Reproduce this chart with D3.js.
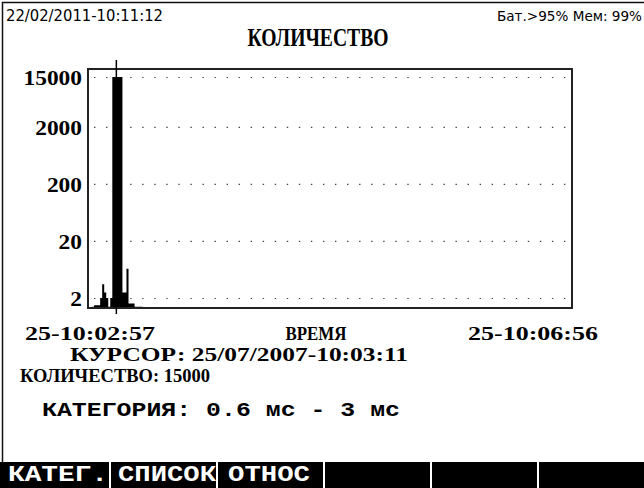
<!DOCTYPE html>
<html>
<head>
<meta charset="utf-8">
<script src="https://cdn.jsdelivr.net/npm/d3@7/dist/d3.min.js"></script>
<style>
  html, body { margin: 0; padding: 0; background: #fff; }
  svg { display: block; }
</style>
</head>
<body>
<script>
// Event-count histogram screen (logarithmic count axis, time on x)
const headerDate = "22/02/2011-10:11:12";
const headerStatus = "Бат.>95% Мем: 99%";
const title = "КОЛИЧЕСТВО";

const timeStart = "10:02:57";
const timeEnd = "10:06:56";
const timeStartLabel = "25-10:02:57";
const timeEndLabel = "25-10:06:56";
const xTitle = "ВРЕМЯ";

const yTicks = [2, 20, 200, 2000, 15000];
const yTickLabels = ["2", "20", "200", "2000", "15000"];

// one-second bins: start time and event count
const binTimes = [
  "10:02:59", "10:03:00", "10:03:01", "10:03:02", "10:03:03", "10:03:04",
  "10:03:05", "10:03:06", "10:03:07", "10:03:08", "10:03:09", "10:03:10",
  "10:03:11", "10:03:12", "10:03:13", "10:03:14", "10:03:15", "10:03:16",
  "10:03:17", "10:03:18", "10:03:19", "10:03:20", "10:03:21", "10:03:22",
  "10:03:23"
];
const binCounts = [
  1.4, 1.5, 1.5, 1.5, 2, 3.5,
  2.5, 2, 1.4, 2, 15000, 15000,
  15000, 15000, 15000, 2.5, 2.5, 6.5,
  1.6, 1.6, 1.6, 1.4, 1.4, 1.4,
  1.4
];

const cursorTime = "10:03:11";
const cursorLabel = "КУРСОР: 25/07/2007-10:03:11";
const cursorCount = 15000;
const countLabel = "КОЛИЧЕСТВО: ";
const categoryLabel = "КАТЕГОРИЯ: 0.6 мс -   3 мс";

const softKeys = ["КАТЕГ.", "СПИСОК", "ОТНОС", "", "", ""];

// ---------------------------------------------------------------
const W = 644, H = 488;
const frame = { left: 88, right: 572, top: 69, bottom: 308 };

const parseT = d3.timeParse("%H:%M:%S");
const svg = d3.select("body").append("svg").attr("width", W).attr("height", H);

const serif = "'Liberation Serif', 'DejaVu Serif', serif";
const sans = "'DejaVu Sans', 'Liberation Sans', sans-serif";
const mono = "'Liberation Mono', 'DejaVu Sans Mono', monospace";

function label(g, txt, x, y, opts) {
  const t = g.append("text")
    .attr("x", x).attr("y", y)
    .attr("font-family", opts.family)
    .attr("font-size", opts.size)
    .attr("font-weight", opts.weight || "normal")
    .attr("fill", opts.fill || "#000")
    .attr("text-anchor", opts.anchor || "start")
    .text(txt);
  if (opts.len) t.attr("textLength", opts.len).attr("lengthAdjust", "spacingAndGlyphs");
  return t;
}

// screen border
svg.append("path")
  .attr("d", `M2.5,${H} V2.5 H${W}`)
  .attr("fill", "none").attr("stroke", "#111").attr("stroke-width", 1.5);

// header
label(svg, headerDate, 6, 21, { family: sans, size: 15, len: 157 });
label(svg, headerStatus, 497, 21, { family: sans, size: 13.5, len: 145 });
label(svg, title, 318, 46, { family: serif, size: 25, weight: "bold", anchor: "middle", len: 141 });

// scales
const x = d3.scaleTime()
  .domain([parseT(timeStart), parseT(timeEnd)])
  .range([frame.left, frame.right]);
const y = d3.scaleLog()
  .domain([2, 15000])
  .range([298, 77]);

// dotted grid + y labels from the axis generator
const yAxis = d3.axisLeft(y)
  .tickValues(yTicks)
  .tickFormat((d, i) => yTickLabels[i])
  .tickSize(0)
  .tickPadding(6);

const gy = svg.append("g").attr("transform", `translate(${frame.left},0)`).call(yAxis);
gy.select(".domain").remove();
gy.selectAll(".tick text")
  .attr("font-family", serif)
  .attr("font-size", 21)
  .attr("font-weight", "bold")
  .attr("fill", "#000")
  .attr("dy", "0.34em")
  .attr("textLength", (d, i) => yTickLabels[i].length * 11.7)
  .attr("lengthAdjust", "spacingAndGlyphs");
gy.selectAll(".tick").append("line")
  .attr("x1", 94 - frame.left).attr("x2", 566 - frame.left)
  .attr("stroke", "#444").attr("stroke-width", 1.2)
  .attr("stroke-dasharray", "1.4 10.65");

// histogram as one stepped area so adjacent bins merge cleanly
const bins = binTimes.map((t, i) => ({ t: parseT(t), v: binCounts[i] }));
const lastBin = bins[bins.length - 1];
const steps = bins.concat([{ t: new Date(lastBin.t.getTime() + 1000), v: lastBin.v }]);
const area = d3.area()
  .curve(d3.curveStepAfter)
  .x(d => x(d.t))
  .y0(frame.bottom)
  .y1(d => y(d.v));
svg.append("path").datum(steps).attr("d", area).attr("fill", "#000");

// plot frame
svg.append("rect")
  .attr("x", frame.left).attr("y", frame.top)
  .attr("width", frame.right - frame.left).attr("height", frame.bottom - frame.top)
  .attr("fill", "none").attr("stroke", "#222").attr("stroke-width", 2);

// cursor
const cx = x(parseT(cursorTime));
svg.append("line")
  .attr("x1", cx).attr("x2", cx).attr("y1", 60).attr("y2", 314)
  .attr("stroke", "#000").attr("stroke-width", 1.5);

// x labels
const big = { family: serif, size: 19, weight: "bold" };
label(svg, timeStartLabel, x(parseT(timeStart)) + 2, 340, { ...big, anchor: "middle", len: 130 });
label(svg, xTitle, 316, 340, { ...big, anchor: "middle", len: 61 });
label(svg, timeEndLabel, x(parseT(timeEnd)) - 39, 340, { ...big, anchor: "middle", len: 130 });

// cursor readout
label(svg, cursorLabel, 70, 361, { ...big, len: 338 });
label(svg, countLabel + cursorCount, 20, 382, { ...big, len: 190 });
label(svg, categoryLabel, 42, 416, { family: mono, size: 21, weight: "bold", len: 358 });

// soft-key bar
const keyW = 107;
const keys = svg.append("g");
keys.append("rect").attr("x", 0).attr("y", 462).attr("width", W).attr("height", H - 462).attr("fill", "#000");
softKeys.forEach((k, i) => {
  if (i > 0) {
    keys.append("rect").attr("x", 3 + i * keyW - 1).attr("y", 462).attr("width", 2).attr("height", H - 462).attr("fill", "#fff");
  }
});
const keyTextPos = [[8, 100], [118, 98], [228, 82]];
softKeys.forEach((k, i) => {
  if (!k) return;
  label(keys, k, keyTextPos[i][0], 481, { family: mono, size: 22, weight: "bold", fill: "#fff", len: keyTextPos[i][1] });
});
</script>
</body>
</html>
